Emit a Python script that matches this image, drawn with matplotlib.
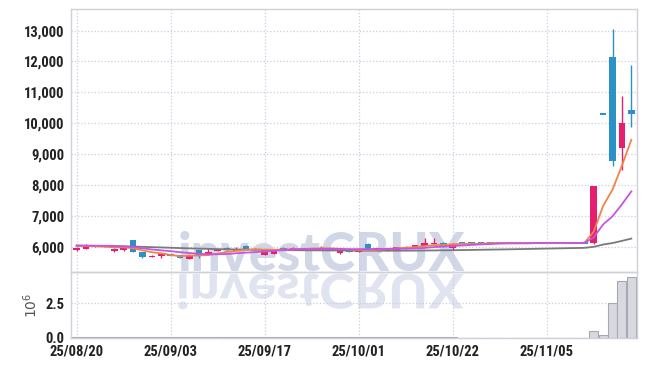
import numpy as np
import matplotlib
matplotlib.use("Agg")
import matplotlib.pyplot as plt
from matplotlib.ticker import FuncFormatter, FixedLocator
from matplotlib.textpath import TextPath
from matplotlib.patches import PathPatch
from matplotlib.transforms import Affine2D
from matplotlib.font_manager import FontProperties

# trading days shown on the chart
dates = ['25/08/20', '25/08/21', '25/08/22', '25/08/25', '25/08/26', '25/08/27', '25/08/28', '25/08/29',
         '25/09/01', '25/09/02', '25/09/03', '25/09/04', '25/09/05', '25/09/08', '25/09/09', '25/09/10',
         '25/09/11', '25/09/12', '25/09/15', '25/09/16', '25/09/17', '25/09/18', '25/09/19', '25/09/22',
         '25/09/23', '25/09/24', '25/09/25', '25/09/26', '25/09/29', '25/09/30', '25/10/01', '25/10/02',
         '25/10/10', '25/10/13', '25/10/14', '25/10/15', '25/10/16', '25/10/17', '25/10/20', '25/10/21',
         '25/10/22', '25/10/23', '25/10/24', '25/10/27', '25/10/28', '25/10/29', '25/10/30', '25/10/31',
         '25/11/03', '25/11/04', '25/11/05', '25/11/06', '25/11/07', '25/11/10', '25/11/11', '25/11/12',
         '25/11/13', '25/11/14', '25/11/17', '25/11/18']

opens = [5880, 5920, 6020, 6050, 5870, 5880, 6220, 5830, 5690, 5690,
         5760, 5730, 5610, 5890, 5730, 5860, 5940, 5880, 6030, 5900,
         5740, 5760, 5950, 5930, 5950, 5940, 5930, 5950, 5780, 5940,
         5830, 6100, 5870, 5870, 5880, 5950, 5970, 6020, 6100, 6130,
         5970] + [6120] * 14 + [6120, 10300, 12150, 9210, 10430]
highs = [5990, 6090, 6040, 6070, 5950, 6020, 6230, 5840, 5720, 5770,
         5780, 5740, 5750, 5900, 5950, 5940, 5980, 6000, 6040, 5950,
         5890, 5920, 5980, 6000, 5970, 5960, 6010, 5970, 5870, 5950,
         5930, 6110, 5960, 5970, 6000, 6010, 6060, 6270, 6270, 6140,
         6110] + [6120] * 14 + [7960, 10300, 13050, 10880, 11870]
lows = [5870, 5910, 5990, 6000, 5830, 5870, 5830, 5640, 5660, 5630,
        5690, 5620, 5600, 5640, 5720, 5850, 5900, 5870, 5890, 5890,
        5730, 5750, 5930, 5920, 5940, 5930, 5920, 5900, 5770, 5830,
        5820, 5920, 5860, 5860, 5870, 5940, 5960, 6010, 6090, 6000,
        5900] + [6120] * 14 + [6100, 10300, 8600, 8500, 9890]
closes = [5960, 5990, 6000, 6010, 5940, 5960, 5840, 5650, 5710, 5760,
          5700, 5640, 5740, 5730, 5840, 5925, 5930, 5900, 5900, 5920,
          5880, 5900, 5940, 5950, 5950, 5950, 5960, 5930, 5860, 5840,
          5920, 5930, 5950, 5960, 5990, 5990, 6050, 6110, 6120, 6010,
          6100] + [6120] * 14 + [7950, 10300, 8760, 10000, 10300]

# volume in millions of shares
volume = [0.02, 0.03, 0.01, 0.01, 0.02, 0.01, 0.03, 0.03, 0.02, 0.02,
          0.01, 0.02, 0.02, 0.02, 0.02, 0.01, 0.01, 0.01, 0.01, 0.01,
          0.02, 0.01, 0.01, 0.01, 0.01, 0.01, 0.01, 0.01, 0.01, 0.01,
          0.01, 0.02, 0.01, 0.01, 0.01, 0.01, 0.01, 0.02, 0.02, 0.01,
          0.01] + [0] * 14 + [0.46, 0.15, 2.50, 4.14, 4.46]

# moving averages
ma5 = [6040, 6020, 6012, 6000, 5980, 5980, 5950, 5880, 5820, 5784,
       5732, 5692, 5710, 5714, 5730, 5775, 5833, 5865, 5899, 5915,
       5906, 5900, 5908, 5918, 5924, 5938, 5950, 5948, 5930, 5908,
       5902, 5896, 5900, 5920, 5950, 5964, 5988, 6020, 6052, 6056,
       6078, 6092, 6094, 6094, 6116] + [6120] * 10 + [6486, 7322, 7850, 8626, 9462]
ma10 = [6035, 6034, 6032, 6029, 6018, 6008, 5987, 5946, 5910, 5882,
        5856, 5821, 5795, 5767, 5757, 5754, 5763, 5788, 5807, 5823,
        5841, 5867, 5887, 5909, 5920, 5922, 5925, 5928, 5924, 5916,
        5920, 5923, 5924, 5925, 5929, 5933, 5942, 5960, 5986, 6003,
        6021, 6040, 6057, 6073, 6086, 6099, 6106, 6107, 6107, 6118,
        6120, 6120, 6120, 6120, 6120, 6303, 6721, 6985, 7373, 7791]
ma60 = [6030, 6028, 6025, 6022, 6018, 6012, 6005, 5995, 5985, 5975,
        5965, 5955, 5945, 5937, 5930, 5922, 5916, 5910, 5905, 5900,
        5896, 5892, 5889, 5886, 5884, 5882, 5880, 5878, 5876, 5874,
        5872, 5871, 5870, 5870, 5870, 5871, 5873, 5876, 5879, 5882,
        5886, 5890, 5895, 5900, 5905, 5910, 5915, 5920, 5926, 5932,
        5938, 5944, 5950, 5956, 5962, 5995, 6070, 6118, 6188, 6262]

tick_idx = [0, 10, 20, 30, 40, 50]

RED = '#e61e6e'
BLUE = '#2c92c6'
GRID = '#c9cde0'
SPINE = '#d0d0d8'
tick_font = ['Roboto Condensed', 'Liberation Sans Narrow', 'DejaVu Sans Condensed', 'DejaVu Sans']

fig = plt.figure(figsize=(6.45, 3.66), dpi=100)
W, H = 645.0, 366.0
ax = fig.add_axes([71.3 / W, 1 - 272.3 / H, 565.4 / W, 263.3 / H])
axv = fig.add_axes([71.3 / W, 1 - 337.5 / H, 565.4 / W, 65.2 / H], sharex=ax)
for a in (ax, axv):
    a.set_facecolor('none')
    for s in a.spines.values():
        s.set_color(SPINE)
        s.set_linewidth(1.0)
    a.grid(True, ls=':', color=GRID, lw=0.9)
    a.set_axisbelow(True)
    a.tick_params(length=0, pad=5, labelsize=10.5, labelcolor='#222222')

# watermark + its reflection
wm_font = FontProperties(family=['Lato', 'DejaVu Sans'], weight='black', size=38)
fig.text(321 / W, (H - 271) / H, 'investCRUX', ha='center', va='baseline',
         fontproperties=wm_font, color='#d1d7e7', zorder=-2)
tp = TextPath((0, 0), 'investCRUX', prop=wm_font)
bb = tp.get_extents()
refl = (Affine2D().translate(-(bb.x0 + bb.x1) / 2, 0).scale(1 / 72, -0.9 / 72)
        .translate(3.21, (H - 274) / 100) + fig.dpi_scale_trans)
fig.add_artist(PathPatch(tp, transform=refl, facecolor='#e0e4f0', edgecolor='none', zorder=-2))

x = np.arange(len(dates))
o = np.array(opens, float)
c = np.array(closes, float)
cols = [RED if cc > oo else BLUE for oo, cc in zip(o, c)]

ax.vlines(x, lows, highs, colors=cols, lw=1.0, zorder=2)
body_h = np.maximum(np.abs(c - o), 45)
body_b = np.where(np.abs(c - o) < 45, np.minimum(o, c) - 22, np.minimum(o, c))
ax.bar(x, body_h, bottom=body_b, width=0.7, color=cols, zorder=3)

ax.plot(x, ma60, color='#7a7a7a', lw=1.3, zorder=4)
ax.plot(x, ma5, color='#f08448', lw=1.3, zorder=4)
ax.plot(x, ma10, color='#c654e4', lw=1.3, zorder=4)

ax.set_ylim(5170, 13700)
ax.set_xlim(-0.57, len(dates) - 0.43)
ax.yaxis.set_major_locator(FixedLocator(range(6000, 14000, 1000)))
ax.yaxis.set_major_formatter(FuncFormatter(lambda v, p: f'{v:,.0f}'))
ax.tick_params(axis='x', labelbottom=False)

axv.bar(x, volume, width=0.95, color='#d8d8e0', edgecolor='#a8a8b2', lw=0.8, zorder=2)
axv.set_ylim(0, 4.78)
axv.yaxis.set_major_locator(FixedLocator([0, 2.5]))
axv.yaxis.set_major_formatter(FuncFormatter(lambda v, p: f'{v:.1f}'))
axv.set_xticks(tick_idx)
axv.set_xticklabels([dates[i] for i in tick_idx])
axv.set_ylabel(r'$10^{6}$', fontsize=10, color='#555555', labelpad=4)

for lab in ax.get_yticklabels() + axv.get_yticklabels() + axv.get_xticklabels():
    lab.set_fontfamily(tick_font)
    lab.set_fontweight('bold')

fig.savefig('out.png', dpi=100)
